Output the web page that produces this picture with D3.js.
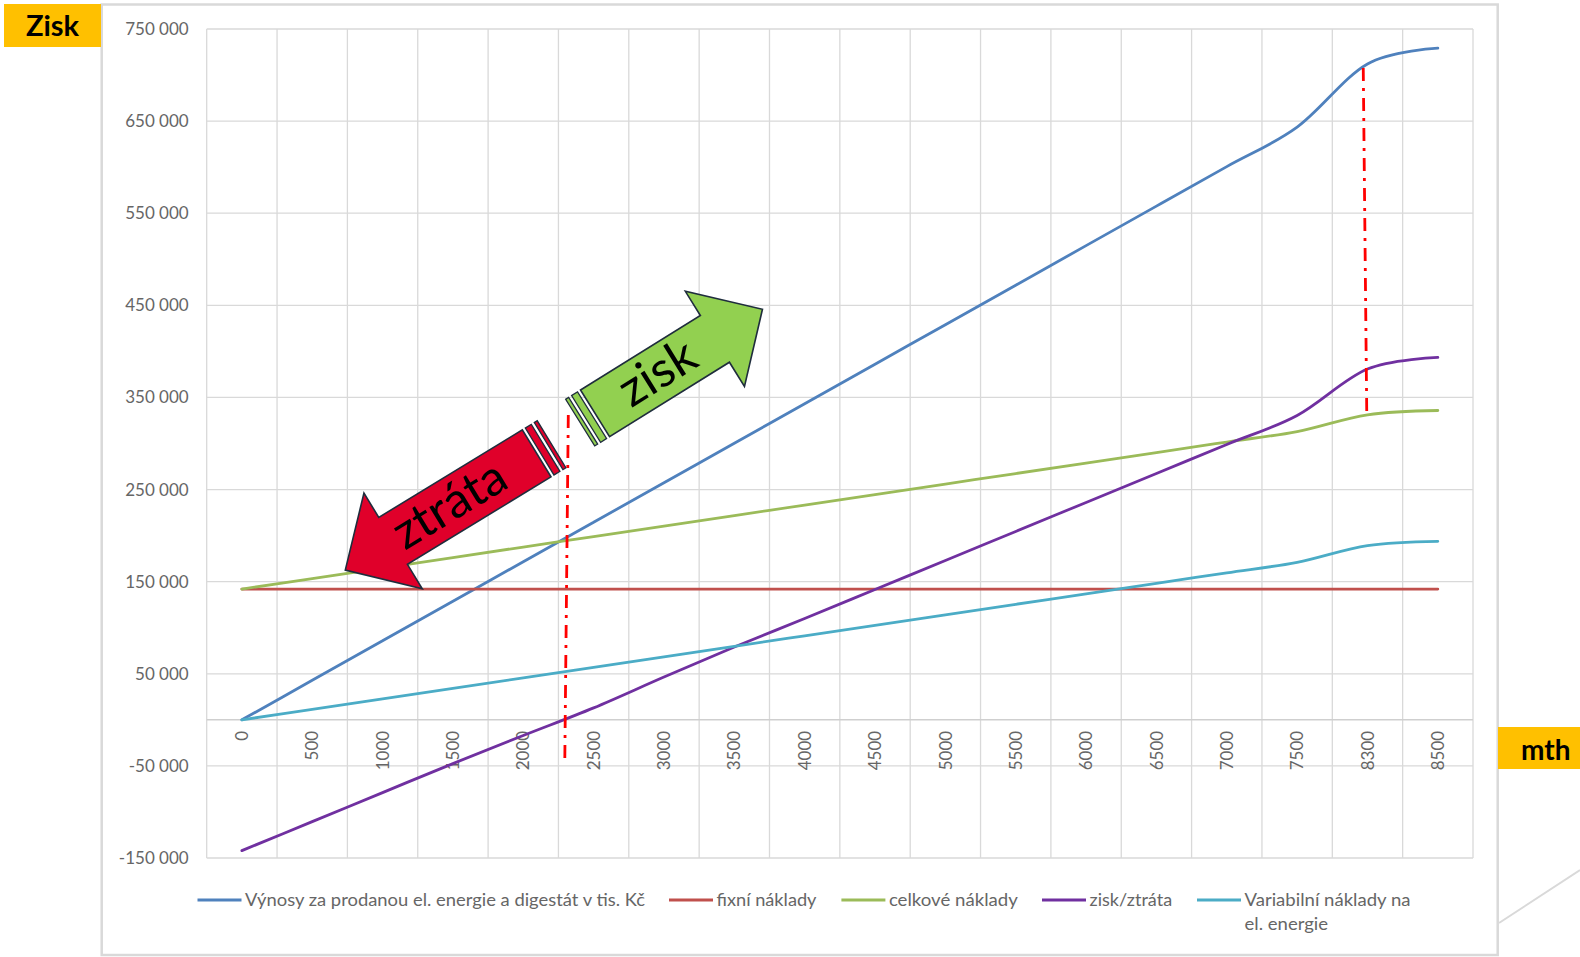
<!DOCTYPE html>
<html><head><meta charset="utf-8">
<script src="https://cdn.jsdelivr.net/npm/d3@7"></script>
<style>body{margin:0;background:#fff}svg{display:block}text{font-family:Lato,"Noto Sans",sans-serif}</style>
</head><body>
<svg id="c" width="1580" height="957"></svg>
<script>
// ---- data ----
const categories = ["0","500","1000","1500","2000","2500","3000","3500","4000","4500","5000","5500","6000","6500","7000","7500","8300","8500"];
const vynosy     = [0,42900,85800,128700,171600,214500,257400,300300,343200,386100,429000,471900,514800,557700,600600,643500,712100,729300];
const fixni      = [142000,142000,142000,142000,142000,142000,142000,142000,142000,142000,142000,142000,142000,142000,142000,142000,142000,142000];
const celkove    = [142000,153400,164800,176200,187600,199000,210400,221800,233200,244600,256000,267400,278800,290200,301600,313000,331200,335800];
const ziskZtrata = [-142000,-110500,-79000,-47500,-17000,13000,46500,79000,110000,141500,173000,204500,236000,267500,299000,330500,380900,393500];
const variabilni = [0,11400,22800,34200,45600,57000,68400,79800,91200,102600,114000,125400,136800,148200,159600,171000,189200,193800];
const yTicks = [-150000,-50000,50000,150000,250000,350000,450000,550000,650000,750000];
const seriesNames = ["Výnosy za prodanou el. energie a digestát v tis. Kč","fixní náklady","celkové náklady","zisk/ztráta","Variabilní náklady na|el. energie"];
const seriesColors = ["#4F81BD","#C0504D","#9BBB59","#7030A0","#4BACC6"];
const seriesData = [vynosy, fixni, celkove, ziskZtrata, variabilni];
// annotations: [category index, value]
const dashLines = [ {from:[4.64,330900], to:[4.59,-45900]}, {from:[15.94,707600], to:[15.99,331000]} ];
const arrows = [
  {label:"ztráta", from:[4.19,289300], to:[1.47,162600], fill:"#E0002A", textAt:0.451, textLen:124},
  {label:"zisk",   from:[5.02,332700], to:[7.40,445700], fill:"#92D050", textAt:0.378, textLen:82}
];

// ---- layout ----
const svg = d3.select("#c");
const plot = {left:206.7, right:1473, top:29, bottom:858};
const x = d3.scaleBand().domain(categories).range([plot.left, plot.right]);
const xc = c => x(c) + x.bandwidth()/2;
const xi = d3.scaleLinear().domain([0, categories.length-1]).range([xc(categories[0]), xc(categories[categories.length-1])]);
const y = d3.scaleLinear().domain([-150000, 750000]).range([plot.bottom, plot.top]);
const grid = "#d9d9d9", txt = "#666";

// chart area border and slide decoration
svg.append("line").attr("x1",1499).attr("y1",923).attr("x2",1580).attr("y2",870).attr("stroke",grid).attr("stroke-width",2);
svg.append("rect").attr("x",101.7).attr("y",4.5).attr("width",1396).attr("height",950.5)
  .attr("fill","#fff").attr("stroke",grid).attr("stroke-width",2.5);

// gridlines
const bounds = categories.map(c => x(c)).concat([plot.right]);
svg.append("g").selectAll("line").data(bounds).join("line")
  .attr("x1",d=>d).attr("x2",d=>d).attr("y1",plot.top).attr("y2",plot.bottom).attr("stroke",grid).attr("stroke-width",1.3);
svg.append("g").selectAll("line").data(yTicks).join("line")
  .attr("x1",plot.left).attr("x2",plot.right).attr("y1",d=>y(d)).attr("y2",d=>y(d)).attr("stroke",grid).attr("stroke-width",1.3);
svg.append("line").attr("x1",plot.left).attr("x2",plot.right).attr("y1",y(0)).attr("y2",y(0)).attr("stroke","#cfcfcf").attr("stroke-width",1.5);

// y axis
const loc = d3.formatLocale({decimal:",", thousands:" ", grouping:[3], currency:["",""], minus:"-"});
const fmt = loc.format(",d");
const yAxis = svg.append("g").attr("transform",`translate(${plot.left},0)`)
  .call(d3.axisLeft(y).tickValues(yTicks).tickSize(0).tickPadding(18).tickFormat(fmt));
yAxis.select(".domain").remove();
yAxis.selectAll("text").attr("fill",txt).style("font-size","17px").style("font-family","Lato");

// x axis
const xAxis = svg.append("g").attr("transform",`translate(0,${y(0)})`).call(d3.axisBottom(x).tickSize(0));
xAxis.select(".domain").remove();
xAxis.selectAll("text").attr("fill",txt).style("font-size","17px").style("font-family","Lato")
  .attr("transform","rotate(-90)").attr("text-anchor","end").attr("x",-11).attr("y",0).attr("dy","0.36em");

// series lines
const line = d3.line().x((d,i)=>xc(categories[i])).y(d=>y(d)).curve(d3.curveCardinal.tension(0));
seriesData.forEach((s,k)=>{
  svg.append("path").datum(s).attr("d",line).attr("fill","none").attr("stroke",seriesColors[k])
    .attr("stroke-width",2.8).attr("stroke-linecap","round");
});

// dash-dot lines
dashLines.forEach(d=>{
  svg.append("line").attr("x1",xi(d.from[0])).attr("y1",y(d.from[1])).attr("x2",xi(d.to[0])).attr("y2",y(d.to[1]))
    .attr("stroke","#FF0000").attr("stroke-width",2.8).attr("stroke-dasharray","13,7,3,7");
});

// arrows
const stroke = "#1F2D3D";
arrows.forEach(a=>{
  const p0=[xi(a.from[0]), y(a.from[1])], p1=[xi(a.to[0]), y(a.to[1])];
  const dx=p1[0]-p0[0], dy=p1[1]-p0[1];
  const len=Math.hypot(dx,dy), ang=Math.atan2(dy,dx)*180/Math.PI;
  const sw=27.5, hw=56, hl=56;
  const g=svg.append("g").attr("transform",`translate(${p0[0]},${p0[1]}) rotate(${ang})`);
  g.append("path").attr("d",`M0,${-sw}L${len-hl},${-sw}L${len-hl},${-hw}L${len},0L${len-hl},${hw}L${len-hl},${sw}L0,${sw}Z`)
    .attr("fill",a.fill).attr("stroke",stroke).attr("stroke-width",1.6).attr("stroke-linejoin","miter");
  [[-17.5,3.5],[-10.5,7]].forEach(r=>{
    g.append("rect").attr("x",r[0]).attr("y",-sw).attr("width",r[1]).attr("height",2*sw)
      .attr("fill",a.fill).attr("stroke",stroke).attr("stroke-width",1.3);
  });
  const flip = Math.abs(ang)>90 ? 180 : 0;
  g.append("text").attr("transform",`translate(${a.textAt*len},0) rotate(${flip})`)
    .attr("text-anchor","middle").attr("dy","0.3em").style("font-size","49px").attr("fill","#000")
    .attr("textLength",a.textLen).attr("lengthAdjust","spacingAndGlyphs").text(a.label);
});

// legend
const legendX = [197.5, 669, 841.4, 1042, 1197];
const legendW = [400, 100, 129, 82.6, 166];
const ly = 900;
seriesNames.forEach((n,k)=>{
  svg.append("line").attr("x1",legendX[k]).attr("x2",legendX[k]+44).attr("y1",ly).attr("y2",ly)
    .attr("stroke",seriesColors[k]).attr("stroke-width",3);
  const parts=n.split("|");
  parts.forEach((p,j)=>{
    const t=svg.append("text").attr("x",legendX[k]+47.5).attr("y",ly+j*24).attr("dy","0.35em")
      .attr("fill",txt).style("font-size","17px").text(p);
    const tl = j===0 ? legendW[k] : 83.6;
    t.attr("textLength",tl).attr("lengthAdjust","spacingAndGlyphs");
  });
});

// axis title boxes
svg.append("rect").attr("x",4).attr("y",4).attr("width",97).attr("height",43).attr("fill","#FFC000");
svg.append("text").attr("x",52.5).attr("y",36).attr("text-anchor","middle").style("font-size","29px").style("font-weight","bold").attr("fill","#000").text("Zisk");
svg.append("rect").attr("x",1498).attr("y",727).attr("width",82).attr("height",42).attr("fill","#FFC000");
svg.append("text").attr("x",1521).attr("y",760).style("font-size","28px").style("font-weight","bold").attr("fill","#000").text("mth");
</script>
</body></html>
